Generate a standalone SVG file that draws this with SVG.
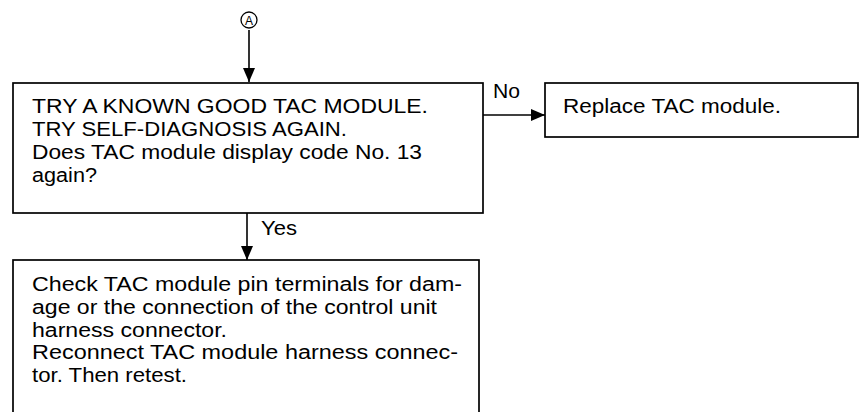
<svg xmlns="http://www.w3.org/2000/svg" width="859" height="412" viewBox="0 0 859 412">
<style>
.box{fill:none;stroke:#000;stroke-width:1.7}
.t{font-family:"Liberation Sans",Arial,Helvetica,sans-serif;font-size:20px;fill:#000}
.lbl{font-family:"Liberation Sans",Arial,Helvetica,sans-serif;font-size:20px;fill:#000}
.c{fill:none;stroke:#000;stroke-width:1.6}
</style>
<defs>
<marker id="ah" markerUnits="userSpaceOnUse" markerWidth="14" markerHeight="12" refX="14" refY="6" orient="auto">
<path d="M0,0 L14,6 L0,12 z" fill="#000"/>
</marker>
</defs>
<rect width="859" height="412" fill="#fff"/>
<g id="start">
<circle cx="249" cy="20" r="8" fill="none" stroke="#000" stroke-width="1.3"/>
<text x="249" y="24.5" text-anchor="middle" font-family="Liberation Sans, Arial, sans-serif" font-size="12" fill="#000">A</text>
</g>
<g id="connectors">
<line class="c" x1="249" y1="30" x2="249" y2="82" marker-end="url(#ah)"/>
<line class="c" x1="483" y1="115" x2="545" y2="115" marker-end="url(#ah)"/>
<line class="c" x1="247" y1="213" x2="247" y2="260" marker-end="url(#ah)"/>
<text class="lbl" x="493" y="98" textLength="27" lengthAdjust="spacingAndGlyphs">No</text>
<text class="lbl" x="261" y="235" textLength="36" lengthAdjust="spacingAndGlyphs">Yes</text>
</g>
<g id="check-module">
<rect class="box" x="13" y="83" width="470" height="130"/>
<text class="t" x="32" y="113" textLength="396" lengthAdjust="spacingAndGlyphs">TRY A KNOWN GOOD TAC MODULE.</text>
<text class="t" x="32" y="136" textLength="315" lengthAdjust="spacingAndGlyphs">TRY SELF-DIAGNOSIS AGAIN.</text>
<text class="t" x="32" y="159" textLength="390" lengthAdjust="spacingAndGlyphs">Does TAC module display code No. 13</text>
<text class="t" x="32" y="182" textLength="65" lengthAdjust="spacingAndGlyphs">again?</text>
</g>
<g id="replace-module">
<rect class="box" x="545" y="83" width="313" height="54"/>
<text class="t" x="563" y="113" textLength="218" lengthAdjust="spacingAndGlyphs">Replace TAC module.</text>
</g>
<g id="check-terminals">
<rect class="box" x="13" y="260" width="466" height="170"/>
<text class="t" x="32" y="291" textLength="430" lengthAdjust="spacingAndGlyphs">Check TAC module pin terminals for dam-</text>
<text class="t" x="32" y="314" textLength="405" lengthAdjust="spacingAndGlyphs">age or the connection of the control unit</text>
<text class="t" x="32" y="337" textLength="195" lengthAdjust="spacingAndGlyphs">harness connector.</text>
<text class="t" x="32" y="359" textLength="426" lengthAdjust="spacingAndGlyphs">Reconnect TAC module harness connec-</text>
<text class="t" x="32" y="382" textLength="155" lengthAdjust="spacingAndGlyphs">tor. Then retest.</text>
</g>
</svg>
